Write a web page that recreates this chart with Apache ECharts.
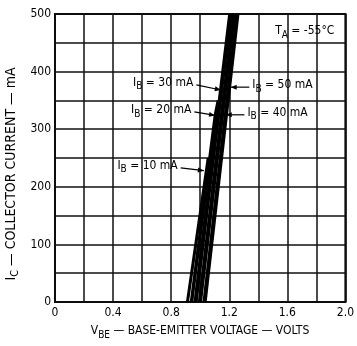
<!DOCTYPE html>
<html><head><meta charset="utf-8">
<script src="https://cdn.jsdelivr.net/npm/echarts@6/dist/echarts.min.js"></script>
<style>html,body{margin:0;padding:0;background:#fff}#c{width:357px;height:346px}</style>
</head><body><div id="c"></div>
<script>
// ---- data (V_BE in volts, I_C in mA) ----
const curveNames = ['10 mA','20 mA','30 mA','40 mA','50 mA'];
const curve10 = [[0.912,0],[1.055,250]];
const curve20 = [[0.940,0],[1.105,325],[1.125,350]];
const curve30 = [[0.968,0],[1.207,500]];
const curve40 = [[0.998,0],[1.232,500]];
const curve50 = [[1.030,0],[1.256,500]];
const xTickLabels = ['0','0.4','0.8','1.2','1.6','2.0'];
const yTickLabels = ['0','100','200','300','400','500'];
// annotation anchors (data units): text anchor and arrow tip
const annText   = ['30 mA','20 mA','10 mA','50 mA','40 mA'];
const annAnchor = [[0.953,377],[0.939,330],[0.845,233],[1.359,373],[1.325,325]];
const annTip    = [[1.142,368],[1.102,324],[1.025,228],[1.210,373],[1.176,325]];
const annSide   = ['left','left','left','right','right'];

const FONT = "'Liberation Sans Narrow','DejaVu Sans Condensed',sans-serif";
const chart = echarts.init(document.getElementById('c'), null, {renderer:'canvas'});
const curves = [curve10, curve20, curve30, curve40, curve50];
const widths = [3, 3.5, 4.2, 4.2, 4.2];

chart.setOption({
  animation:false,
  backgroundColor:'#fff',
  grid:{left:55, top:14, width:295, height:288, show:true, borderColor:'#000', borderWidth:2},
  xAxis:{type:'value', min:0, max:2.0, interval:0.2,
    axisLine:{show:false}, axisTick:{show:false},
    splitLine:{show:true, lineStyle:{color:'#111', width:1.5}},
    axisLabel:{color:'#000', fontFamily:FONT, fontSize:12, margin:5,
      formatter:function(v){const i=Math.round(v/0.4*1000)/1000; return Number.isInteger(i)? xTickLabels[i] : '';}}},
  yAxis:{type:'value', min:0, max:500, interval:50,
    axisLine:{show:false}, axisTick:{show:false},
    splitLine:{show:true, lineStyle:{color:'#111', width:1.5}},
    axisLabel:{color:'#000', fontFamily:FONT, fontSize:12, margin:4,
      formatter:function(v){return v%100===0? yTickLabels[v/100] : '';}}},
  series: curves.map((d,i)=>({type:'line', name:curveNames[i], data:d, symbol:'none', silent:true,
    lineStyle:{color:'#000', width:widths[i]}}))
});

const rich = {
  a:{fontFamily:FONT, fontSize:12, color:'#000'},
  s:{fontFamily:FONT, fontSize:10, color:'#000', padding:[8,0,0,0]}
};
const g = [];
annText.forEach((t,i)=>{
  const p = chart.convertToPixel({gridIndex:0}, annAnchor[i]);
  const q = chart.convertToPixel({gridIndex:0}, annTip[i]);
  g.push({type:'text', x:p[0], y:p[1]-2, silent:true,
    style:{text:'{a|I}{s|B}{a| = '+t+'}', rich:rich, align: annSide[i]==='left'?'right':'left', verticalAlign:'middle'}});
  const sx = annSide[i]==='left'? p[0]+3 : p[0]-3;
  g.push({type:'line', silent:true, shape:{x1:sx, y1:p[1], x2:q[0], y2:q[1]}, style:{stroke:'#000', lineWidth:1.2}});
  const ang = Math.atan2(q[1]-p[1], q[0]-sx);
  const L=6, W=2.5;
  const bx=q[0]-L*Math.cos(ang), by=q[1]-L*Math.sin(ang);
  g.push({type:'polygon', silent:true, shape:{points:[[q[0],q[1]],[bx+W*Math.sin(ang),by-W*Math.cos(ang)],[bx-W*Math.sin(ang),by+W*Math.cos(ang)]]}, style:{fill:'#000'}});
});
const tp = chart.convertToPixel({gridIndex:0},[1.72,470]);
g.push({type:'text', x:tp[0], y:tp[1], silent:true, style:{text:'{a|T}{s|A}{a| = -55°C}', rich:rich, align:'center', verticalAlign:'middle'}});
g.push({type:'text', x:200, y:331, silent:true, style:{text:'{a|V}{s|BE}{a| — BASE-EMITTER VOLTAGE — VOLTS}', rich:rich, align:'center', verticalAlign:'middle'}});
g.push({type:'group', x:11, y:174, rotation:Math.PI/2, silent:true, children:[
  {type:'text', x:0, y:0, style:{text:'{a|I}{s|C}{a| — COLLECTOR CURRENT — mA}', rich:{
    a:{fontFamily:FONT, fontSize:14, color:'#000'},
    s:{fontFamily:FONT, fontSize:11, color:'#000', padding:[9,0,0,0]}}, align:'center', verticalAlign:'middle'}}
]});
chart.setOption({graphic:g});
</script></body></html>
